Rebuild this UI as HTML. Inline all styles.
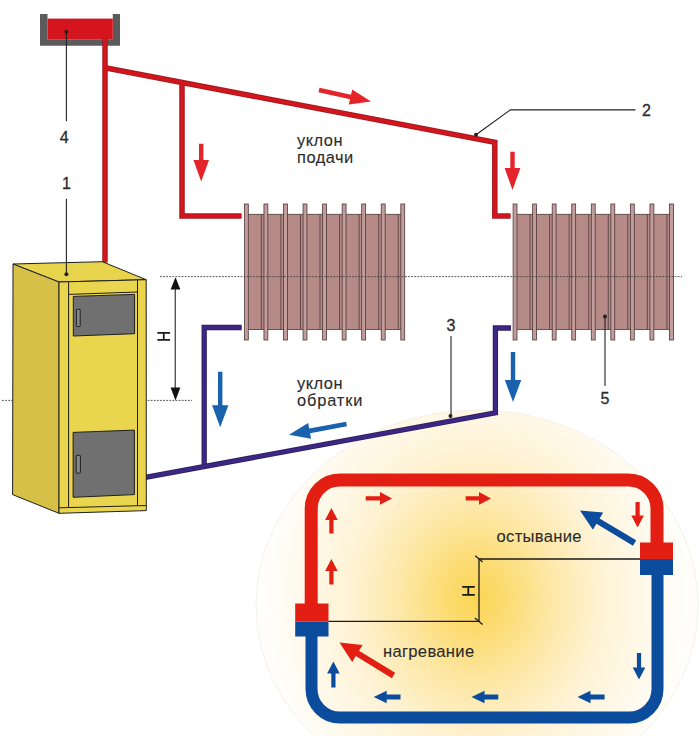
<!DOCTYPE html><html><head><meta charset="utf-8"><style>html,body{margin:0;padding:0;background:#fff;}svg{display:block;}text{font-family:"Liberation Sans",sans-serif;}</style></head><body>
<svg width="700" height="736" viewBox="0 0 700 736">
<defs><radialGradient id="g" cx="476" cy="598" r="225" gradientUnits="userSpaceOnUse" gradientTransform="translate(476 598) scale(0.95 1.1) translate(-476 -598)"><stop offset="0" stop-color="#fbd552"/><stop offset="0.15" stop-color="#fcdc74"/><stop offset="0.38" stop-color="#fde9ac"/><stop offset="0.6" stop-color="#fef3d6"/><stop offset="0.85" stop-color="#fefaee"/><stop offset="1" stop-color="#fffefb"/></radialGradient></defs>
<rect width="700" height="736" fill="#fff"/>
<ellipse cx="477" cy="605" rx="221" ry="195" fill="url(#g)" stroke="#f0eee6" stroke-width="0.8"/>
<path d="M40,14 H47.5 V39.3 H112.8 V14 H120 V45.7 H40 Z" fill="#5b5b5b"/>
<rect x="47.5" y="18.6" width="65.3" height="20.7" fill="#d5151d"/>
<g fill="none" stroke="#a51a1f" stroke-width="5.5" stroke-linejoin="miter">
<line x1="105" y1="38" x2="105" y2="262.5"/>
<polyline points="105,67.8 494.8,142.3 494.8,216 510.5,216"/>
<polyline points="182,82.5 182,216 241.5,216"/>
</g>
<g fill="none" stroke="#d5151d" stroke-width="3.4" stroke-linejoin="miter">
<line x1="105" y1="38" x2="105" y2="262.5"/>
<polyline points="105,67.8 494.8,142.3 494.8,216 510.5,216"/>
<polyline points="182,82.5 182,216 241.5,216"/>
</g>
<g fill="none" stroke="#2c2262" stroke-width="5.3" stroke-linejoin="miter">
<polyline points="140,478.4 495.4,412.8 495.4,328 511,328"/>
<polyline points="204.2,466.5 204.2,327.5 241.6,327.5"/>
</g>
<g fill="none" stroke="#3e2784" stroke-width="3.3" stroke-linejoin="miter">
<polyline points="140,478.4 495.4,412.8 495.4,328 511,328"/>
<polyline points="204.2,466.5 204.2,327.5 241.6,327.5"/>
</g>
<rect x="246.35" y="214.3" width="156.40" height="115.2" fill="#b58a87" stroke="#4d3838" stroke-width="0.8"/>
<rect x="244.40" y="204" width="3.9" height="136" fill="#c29d9b" stroke="#4d3838" stroke-width="0.8"/>
<line x1="261.35" y1="214.5" x2="261.35" y2="329.3" stroke="#4d3838" stroke-width="0.8"/>
<rect x="263.95" y="204" width="3.9" height="136" fill="#c29d9b" stroke="#4d3838" stroke-width="0.8"/>
<line x1="280.90" y1="214.5" x2="280.90" y2="329.3" stroke="#4d3838" stroke-width="0.8"/>
<rect x="283.50" y="204" width="3.9" height="136" fill="#c29d9b" stroke="#4d3838" stroke-width="0.8"/>
<line x1="300.45" y1="214.5" x2="300.45" y2="329.3" stroke="#4d3838" stroke-width="0.8"/>
<rect x="303.05" y="204" width="3.9" height="136" fill="#c29d9b" stroke="#4d3838" stroke-width="0.8"/>
<line x1="320.00" y1="214.5" x2="320.00" y2="329.3" stroke="#4d3838" stroke-width="0.8"/>
<rect x="322.60" y="204" width="3.9" height="136" fill="#c29d9b" stroke="#4d3838" stroke-width="0.8"/>
<line x1="339.55" y1="214.5" x2="339.55" y2="329.3" stroke="#4d3838" stroke-width="0.8"/>
<rect x="342.15" y="204" width="3.9" height="136" fill="#c29d9b" stroke="#4d3838" stroke-width="0.8"/>
<line x1="359.10" y1="214.5" x2="359.10" y2="329.3" stroke="#4d3838" stroke-width="0.8"/>
<rect x="361.70" y="204" width="3.9" height="136" fill="#c29d9b" stroke="#4d3838" stroke-width="0.8"/>
<line x1="378.65" y1="214.5" x2="378.65" y2="329.3" stroke="#4d3838" stroke-width="0.8"/>
<rect x="381.25" y="204" width="3.9" height="136" fill="#c29d9b" stroke="#4d3838" stroke-width="0.8"/>
<line x1="398.20" y1="214.5" x2="398.20" y2="329.3" stroke="#4d3838" stroke-width="0.8"/>
<rect x="400.80" y="204" width="3.9" height="136" fill="#c29d9b" stroke="#4d3838" stroke-width="0.8"/>
<rect x="515.05" y="214.3" width="156.40" height="115.2" fill="#b58a87" stroke="#4d3838" stroke-width="0.8"/>
<rect x="513.10" y="204" width="3.9" height="136" fill="#c29d9b" stroke="#4d3838" stroke-width="0.8"/>
<line x1="530.05" y1="214.5" x2="530.05" y2="329.3" stroke="#4d3838" stroke-width="0.8"/>
<rect x="532.65" y="204" width="3.9" height="136" fill="#c29d9b" stroke="#4d3838" stroke-width="0.8"/>
<line x1="549.60" y1="214.5" x2="549.60" y2="329.3" stroke="#4d3838" stroke-width="0.8"/>
<rect x="552.20" y="204" width="3.9" height="136" fill="#c29d9b" stroke="#4d3838" stroke-width="0.8"/>
<line x1="569.15" y1="214.5" x2="569.15" y2="329.3" stroke="#4d3838" stroke-width="0.8"/>
<rect x="571.75" y="204" width="3.9" height="136" fill="#c29d9b" stroke="#4d3838" stroke-width="0.8"/>
<line x1="588.70" y1="214.5" x2="588.70" y2="329.3" stroke="#4d3838" stroke-width="0.8"/>
<rect x="591.30" y="204" width="3.9" height="136" fill="#c29d9b" stroke="#4d3838" stroke-width="0.8"/>
<line x1="608.25" y1="214.5" x2="608.25" y2="329.3" stroke="#4d3838" stroke-width="0.8"/>
<rect x="610.85" y="204" width="3.9" height="136" fill="#c29d9b" stroke="#4d3838" stroke-width="0.8"/>
<line x1="627.80" y1="214.5" x2="627.80" y2="329.3" stroke="#4d3838" stroke-width="0.8"/>
<rect x="630.40" y="204" width="3.9" height="136" fill="#c29d9b" stroke="#4d3838" stroke-width="0.8"/>
<line x1="647.35" y1="214.5" x2="647.35" y2="329.3" stroke="#4d3838" stroke-width="0.8"/>
<rect x="649.95" y="204" width="3.9" height="136" fill="#c29d9b" stroke="#4d3838" stroke-width="0.8"/>
<line x1="666.90" y1="214.5" x2="666.90" y2="329.3" stroke="#4d3838" stroke-width="0.8"/>
<rect x="669.50" y="204" width="3.9" height="136" fill="#c29d9b" stroke="#4d3838" stroke-width="0.8"/>
<line x1="160" y1="276.6" x2="682" y2="276.6" stroke="#444" stroke-width="0.9" stroke-dasharray="1.8 1.3"/>
<line x1="2" y1="400.4" x2="192" y2="400.4" stroke="#444" stroke-width="0.9" stroke-dasharray="1.8 1.3"/>
<line x1="175.3" y1="285" x2="175.3" y2="392" stroke="#555" stroke-width="1.4"/>
<polygon points="175.5,277.3 170.6,289.6 180.4,289.6" fill="#111"/>
<polygon points="175.5,400.4 170.6,387.6 180.4,387.6" fill="#111"/>
<path d="M157.4,332.8 H170.1 M157.4,339.9 H170.1 M163.75,332.8 V339.9" stroke="#1a1a1a" stroke-width="1.7" fill="none"/>
<g stroke="#1e1e1e" stroke-width="1" stroke-linejoin="round">
<polygon points="13,264 102.3,261.7 146.2,279.7 59,282" fill="#e8d44c"/>
<polygon points="13,264 59,282 59,513.3 12.6,494.6" fill="#d6c048"/>
<polygon points="59,282 146.2,279.7 146.3,510.6 59,513.3" fill="#ead64e"/>
<polyline points="68.6,282 68.6,507.6" fill="none"/>
<polyline points="137.5,280 137.5,505.7" fill="none"/>
<line x1="68.6" y1="294.4" x2="137.5" y2="292" />
<line x1="59" y1="507.8" x2="146.3" y2="505.5" />
<polygon points="73.3,296.4 134.6,294.4 134.6,333.7 73.3,336" fill="#707070"/>
<polygon points="73.1,432.4 134.4,430.1 134.4,494.6 73.1,497.3" fill="#707070"/>
<rect x="76.4" y="309.3" width="3.8" height="17.3" rx="0.8" fill="#888"/>
<rect x="76.2" y="455.3" width="4.2" height="17.8" rx="0.8" fill="#888"/>
</g>
<g stroke="#222" stroke-width="1.1" fill="none">
<line x1="66.4" y1="31.7" x2="66.4" y2="121.2"/>
<line x1="66.4" y1="198.7" x2="66.4" y2="274.3"/>
<polyline points="476,134.7 510.3,109.9 635.4,109.9"/>
<line x1="451" y1="336" x2="451" y2="416"/>
<line x1="605" y1="316.4" x2="605" y2="386"/>
</g>
<g fill="#222">
<circle cx="66.4" cy="31.7" r="2"/>
<circle cx="66.4" cy="274.3" r="2"/>
<circle cx="476" cy="134.7" r="2"/>
<circle cx="450.5" cy="416" r="2"/>
<circle cx="605" cy="316.4" r="2"/>
</g>
<g font-size="16" fill="#2b2b2b" stroke="#2b2b2b" stroke-width="0.3" text-anchor="middle">
<text x="64.2" y="143.2">4</text>
<text x="66.5" y="188.9">1</text>
<text x="646.5" y="115.7">2</text>
<text x="451" y="330.5">3</text>
<text x="605" y="403.5">5</text>
</g>
<g font-size="16.4" fill="#2b2b2b" stroke="#2b2b2b" stroke-width="0.12" letter-spacing="0.5">
<text x="297" y="145.5">уклон</text>
<text x="297" y="162.5">подачи</text>
<text x="297" y="389">уклон</text>
<text x="297" y="405.6" letter-spacing="0.85">обратки</text>
</g>
<polygon fill="#e5232a" points="199.00,143.70 199.00,160.00 193.40,160.00 201.20,181.40 209.00,160.00 203.40,160.00 203.40,143.70"/>
<polygon fill="#e5232a" points="510.30,151.70 510.30,168.00 504.60,168.00 512.50,190.00 520.40,168.00 514.70,168.00 514.70,151.70"/>
<polygon fill="#e5232a" points="318.50,92.24 350.00,99.27 348.82,104.59 371.00,101.60 352.19,89.46 351.00,94.78 319.50,87.76"/>
<polygon fill="#1a62ae" points="218.00,371.70 218.00,405.20 212.00,405.20 220.20,427.20 228.40,405.20 222.40,405.20 222.40,371.70"/>
<polygon fill="#1a62ae" points="510.80,352.00 510.80,380.00 504.80,380.00 513.00,402.00 521.20,380.00 515.20,380.00 515.20,352.00"/>
<polygon fill="#1a62ae" points="346.06,421.64 309.20,428.56 308.16,423.06 289.00,434.80 311.12,438.79 310.08,433.28 346.94,426.36"/>
<path d="M311.2,604 V508.5 A28.5,28.5 0 0 1 339.7,480 H628.5 A28.5,28.5 0 0 1 657,508.5 V543" fill="none" stroke="#e21f12" stroke-width="13"/>
<path d="M311.5,636 V689 A28.5,28.5 0 0 0 340,717.5 H629 A28.5,28.5 0 0 0 657.5,689 V575" fill="none" stroke="#0b4c9c" stroke-width="12"/>
<rect x="295.2" y="603.5" width="33.3" height="18" fill="#e21f12"/>
<rect x="295.2" y="621.5" width="33.3" height="15" fill="#0b4c9c"/>
<rect x="640" y="542.5" width="33" height="16.5" fill="#e21f12"/>
<rect x="640" y="559" width="33" height="16" fill="#0b4c9c"/>
<g stroke="#1a1a1a" stroke-width="1.3" fill="none">
<polyline points="328.5,621.4 479,621.4 479,559 640,559"/>
<line x1="475.3" y1="555.8" x2="482.6" y2="562.1"/>
<line x1="474.9" y1="617.9" x2="482.6" y2="624.5"/>
</g>
<path d="M462.2,586.9 H474.8 M462.2,594.8 H474.8 M468.3,586.9 V594.8" stroke="#1a1a1a" stroke-width="1.8" fill="none"/>
<g font-size="16.6" fill="#2b2b2b" stroke="#2b2b2b" stroke-width="0.1" letter-spacing="0.3">
<text x="496.5" y="541.7">остывание</text>
<text x="383" y="656.6">нагревание</text>
</g>
<polygon fill="#e21f12" points="365.70,500.50 380.00,500.50 380.00,504.70 392.00,498.40 380.00,492.10 380.00,496.30 365.70,496.30"/>
<polygon fill="#e21f12" points="465.70,500.50 479.00,500.50 479.00,504.70 491.00,498.40 479.00,492.10 479.00,496.30 465.70,496.30"/>
<polygon fill="#e21f12" points="333.50,533.50 333.50,520.00 337.70,520.00 331.40,508.00 325.10,520.00 329.30,520.00 329.30,533.50"/>
<polygon fill="#e21f12" points="333.50,584.60 333.50,571.00 337.70,571.00 331.40,559.00 325.10,571.00 329.30,571.00 329.30,584.60"/>
<polygon fill="#e21f12" points="635.50,502.00 635.50,515.50 631.30,515.50 637.60,527.50 643.90,515.50 639.70,515.50 639.70,502.00"/>
<polygon fill="#0b4c9c" points="636.19,540.34 599.62,518.50 603.16,512.58 580.00,510.40 592.90,529.75 596.44,523.83 633.01,545.66"/>
<polygon fill="#e21f12" points="395.12,672.85 359.04,650.81 362.63,644.92 339.50,642.50 352.20,661.98 355.80,656.10 391.88,678.15"/>
<polygon fill="#0b4c9c" points="335.50,687.60 335.50,673.40 339.70,673.40 333.40,661.40 327.10,673.40 331.30,673.40 331.30,687.60"/>
<polygon fill="#0b4c9c" points="636.90,653.00 636.90,667.50 632.70,667.50 639.00,679.50 645.30,667.50 641.10,667.50 641.10,653.00"/>
<polygon fill="#0b4c9c" points="400.50,694.50 386.70,694.50 386.70,690.70 373.70,697.00 386.70,703.30 386.70,699.50 400.50,699.50"/>
<polygon fill="#0b4c9c" points="498.30,694.50 484.50,694.50 484.50,690.70 471.50,697.00 484.50,703.30 484.50,699.50 498.30,699.50"/>
<polygon fill="#0b4c9c" points="604.60,694.50 590.50,694.50 590.50,690.70 577.50,697.00 590.50,703.30 590.50,699.50 604.60,699.50"/>
</svg></body></html>
